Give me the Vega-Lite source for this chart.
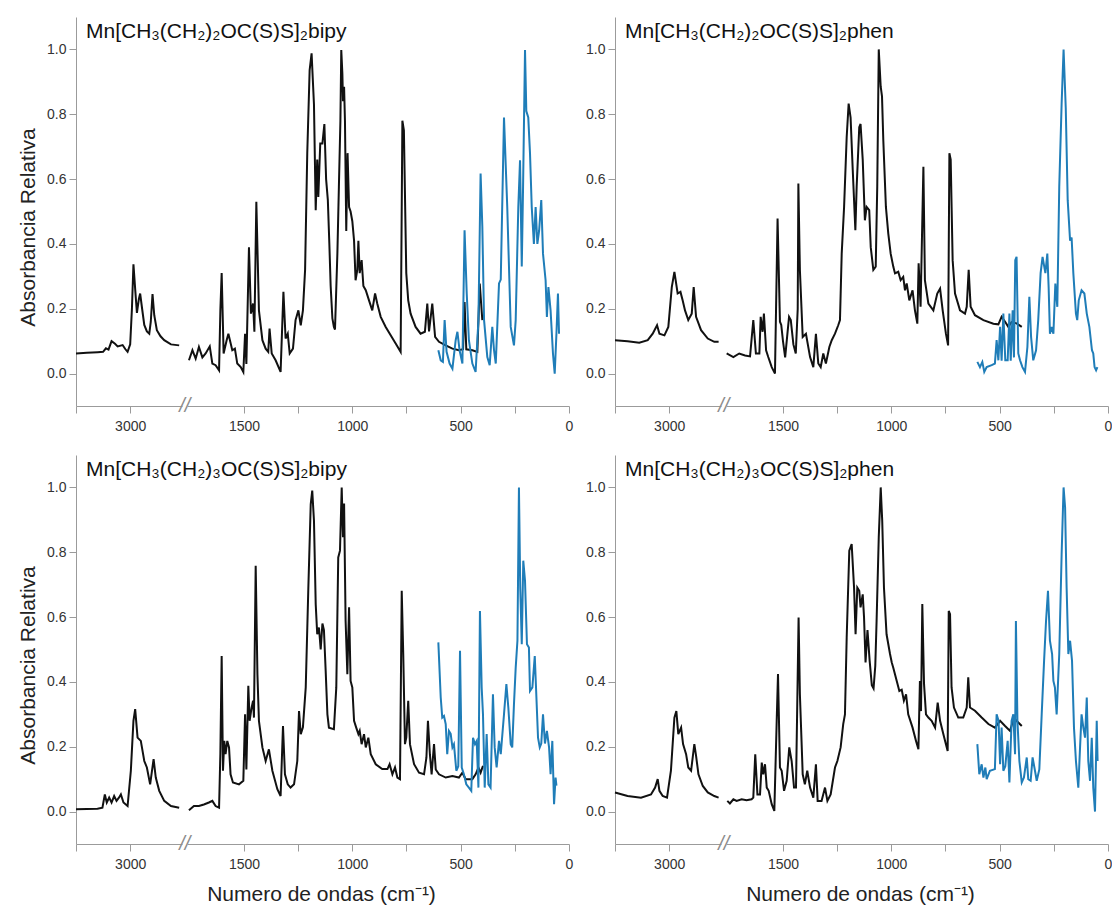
{
"$schema":"https://vega.github.io/schema/vega-lite/v6.json",
"background":"white",
"padding":{"left":17,"top":17,"right":3,"bottom":5},
"config":{"font":"Liberation Sans","view":{"stroke":null},
 "axis":{"grid":false,"domainColor":"#9b9b9b","tickColor":"#9b9b9b","tickSize":7,"labelColor":"#333333","labelFontSize":14,"labelFont":"Liberation Sans","titleFont":"Liberation Sans","titleFontSize":21,"titleFontWeight":"normal","titleColor":"#222222","labelFlush":false,"labelOverlap":false},
 "axisX":{"labelPadding":6,"titlePadding":12},
 "axisY":{"labelPadding":3,"titlePadding":8}},
"datasets":{
"p1L":[{"x":3250,"y":0.062},{"x":3200,"y":0.064},{"x":3150,"y":0.066},{"x":3125,"y":0.067},{"x":3112,"y":0.078},{"x":3100,"y":0.074},{"x":3086,"y":0.1},{"x":3070,"y":0.092},{"x":3058,"y":0.084},{"x":3035,"y":0.088},{"x":3022,"y":0.075},{"x":3012,"y":0.067},{"x":3000,"y":0.09},{"x":2992,"y":0.2},{"x":2985,"y":0.337},{"x":2978,"y":0.27},{"x":2969,"y":0.187},{"x":2960,"y":0.23},{"x":2954,"y":0.247},{"x":2945,"y":0.2},{"x":2935,"y":0.15},{"x":2923,"y":0.13},{"x":2912,"y":0.123},{"x":2905,"y":0.16},{"x":2897,"y":0.245},{"x":2889,"y":0.18},{"x":2877,"y":0.134},{"x":2860,"y":0.115},{"x":2843,"y":0.103},{"x":2812,"y":0.09},{"x":2774,"y":0.087}],
"p1M":[{"x":1754,"y":0.041},{"x":1738,"y":0.072},{"x":1723,"y":0.046},{"x":1708,"y":0.082},{"x":1692,"y":0.05},{"x":1677,"y":0.062},{"x":1658,"y":0.084},{"x":1646,"y":0.031},{"x":1631,"y":0.026},{"x":1615,"y":0.01},{"x":1609,"y":0.195},{"x":1603,"y":0.31},{"x":1594,"y":0.062},{"x":1580,"y":0.103},{"x":1572,"y":0.123},{"x":1554,"y":0.072},{"x":1542,"y":0.077},{"x":1531,"y":0.031},{"x":1515,"y":0.02},{"x":1503,"y":0.005},{"x":1495,"y":0.123},{"x":1489,"y":0.03},{"x":1477,"y":0.39},{"x":1468,"y":0.185},{"x":1458,"y":0.216},{"x":1452,"y":0.129},{"x":1443,"y":0.53},{"x":1431,"y":0.195},{"x":1415,"y":0.103},{"x":1400,"y":0.077},{"x":1388,"y":0.067},{"x":1382,"y":0.139},{"x":1372,"y":0.062},{"x":1354,"y":0.041},{"x":1331,"y":0.005},{"x":1318,"y":0.252},{"x":1308,"y":0.108},{"x":1298,"y":0.123},{"x":1289,"y":0.062},{"x":1274,"y":0.077},{"x":1262,"y":0.165},{"x":1249,"y":0.195},{"x":1238,"y":0.149},{"x":1228,"y":0.195},{"x":1218,"y":0.32},{"x":1208,"y":0.68},{"x":1197,"y":0.936},{"x":1188,"y":0.988},{"x":1177,"y":0.83},{"x":1169,"y":0.504},{"x":1162,"y":0.66},{"x":1157,"y":0.545},{"x":1148,"y":0.71},{"x":1138,"y":0.71},{"x":1129,"y":0.77},{"x":1121,"y":0.6},{"x":1113,"y":0.535},{"x":1106,"y":0.4},{"x":1100,"y":0.27},{"x":1092,"y":0.17},{"x":1085,"y":0.144},{"x":1080,"y":0.136},{"x":1069,"y":0.37},{"x":1062,"y":0.576},{"x":1055,"y":0.78},{"x":1051,"y":0.998},{"x":1046,"y":0.926},{"x":1043,"y":0.84},{"x":1038,"y":0.885},{"x":1034,"y":0.78},{"x":1028,"y":0.44},{"x":1022,"y":0.68},{"x":1015,"y":0.514},{"x":1008,"y":0.5},{"x":1000,"y":0.47},{"x":992,"y":0.41},{"x":985,"y":0.288},{"x":977,"y":0.32},{"x":972,"y":0.41},{"x":966,"y":0.31},{"x":957,"y":0.35},{"x":949,"y":0.27},{"x":938,"y":0.257},{"x":923,"y":0.226},{"x":908,"y":0.195},{"x":895,"y":0.247},{"x":885,"y":0.216},{"x":869,"y":0.175},{"x":846,"y":0.144},{"x":823,"y":0.118},{"x":800,"y":0.093},{"x":777,"y":0.067},{"x":769,"y":0.78},{"x":762,"y":0.75},{"x":751,"y":0.31},{"x":742,"y":0.226},{"x":731,"y":0.185},{"x":708,"y":0.144},{"x":685,"y":0.123},{"x":665,"y":0.129},{"x":654,"y":0.216},{"x":646,"y":0.13},{"x":631,"y":0.216},{"x":618,"y":0.113},{"x":600,"y":0.098},{"x":569,"y":0.087},{"x":538,"y":0.077},{"x":508,"y":0.072},{"x":489,"y":0.075},{"x":482,"y":0.221},{"x":474,"y":0.075},{"x":446,"y":0.072},{"x":423,"y":0.067},{"x":412,"y":0.278},{"x":400,"y":0.165}],
"p1F":[{"x":603,"y":0.072},{"x":592,"y":0.041},{"x":582,"y":0.036},{"x":574,"y":0.165},{"x":565,"y":0.067},{"x":551,"y":0.031},{"x":538,"y":0.015},{"x":523,"y":0.103},{"x":515,"y":0.129},{"x":505,"y":0.072},{"x":492,"y":0.031},{"x":482,"y":0.442},{"x":472,"y":0.247},{"x":462,"y":0.103},{"x":446,"y":0.031},{"x":431,"y":0.005},{"x":418,"y":0.165},{"x":408,"y":0.617},{"x":400,"y":0.453},{"x":392,"y":0.165},{"x":377,"y":0.051},{"x":366,"y":0.026},{"x":354,"y":0.144},{"x":346,"y":0.072},{"x":338,"y":0.031},{"x":323,"y":0.278},{"x":315,"y":0.29},{"x":300,"y":0.79},{"x":285,"y":0.514},{"x":269,"y":0.144},{"x":254,"y":0.087},{"x":246,"y":0.165},{"x":234,"y":0.514},{"x":226,"y":0.658},{"x":218,"y":0.33},{"x":212,"y":0.576},{"x":203,"y":0.998},{"x":197,"y":0.81},{"x":188,"y":0.79},{"x":180,"y":0.68},{"x":172,"y":0.514},{"x":162,"y":0.4},{"x":154,"y":0.514},{"x":146,"y":0.4},{"x":138,"y":0.44},{"x":128,"y":0.535},{"x":120,"y":0.37},{"x":108,"y":0.288},{"x":102,"y":0.175},{"x":95,"y":0.267},{"x":85,"y":0.195},{"x":74,"y":0.062},{"x":66,"y":0.0},{"x":58,"y":0.123},{"x":51,"y":0.247},{"x":46,"y":0.123}],
"p2L":[{"x":3250,"y":0.103},{"x":3192,"y":0.1},{"x":3138,"y":0.095},{"x":3099,"y":0.103},{"x":3076,"y":0.123},{"x":3056,"y":0.149},{"x":3045,"y":0.123},{"x":3022,"y":0.118},{"x":3004,"y":0.144},{"x":2988,"y":0.267},{"x":2976,"y":0.314},{"x":2961,"y":0.247},{"x":2948,"y":0.252},{"x":2938,"y":0.226},{"x":2927,"y":0.195},{"x":2912,"y":0.165},{"x":2896,"y":0.185},{"x":2887,"y":0.267},{"x":2876,"y":0.175},{"x":2853,"y":0.134},{"x":2822,"y":0.108},{"x":2792,"y":0.098},{"x":2772,"y":0.098}],
"p2M":[{"x":1760,"y":0.062},{"x":1729,"y":0.051},{"x":1702,"y":0.062},{"x":1675,"y":0.056},{"x":1652,"y":0.053},{"x":1637,"y":0.165},{"x":1625,"y":0.062},{"x":1609,"y":0.062},{"x":1603,"y":0.175},{"x":1594,"y":0.129},{"x":1588,"y":0.185},{"x":1578,"y":0.072},{"x":1568,"y":0.051},{"x":1552,"y":0.02},{"x":1537,"y":0.0},{"x":1525,"y":0.478},{"x":1514,"y":0.16},{"x":1508,"y":0.15},{"x":1500,"y":0.1},{"x":1490,"y":0.05},{"x":1480,"y":0.12},{"x":1472,"y":0.175},{"x":1464,"y":0.165},{"x":1452,"y":0.09},{"x":1441,"y":0.062},{"x":1432,"y":0.2},{"x":1429,"y":0.586},{"x":1422,"y":0.32},{"x":1409,"y":0.113},{"x":1394,"y":0.123},{"x":1375,"y":0.051},{"x":1360,"y":0.02},{"x":1348,"y":0.123},{"x":1337,"y":0.031},{"x":1326,"y":0.02},{"x":1314,"y":0.062},{"x":1302,"y":0.031},{"x":1286,"y":0.082},{"x":1275,"y":0.103},{"x":1260,"y":0.123},{"x":1245,"y":0.149},{"x":1237,"y":0.165},{"x":1229,"y":0.37},{"x":1218,"y":0.514},{"x":1206,"y":0.73},{"x":1197,"y":0.833},{"x":1188,"y":0.79},{"x":1178,"y":0.627},{"x":1166,"y":0.442},{"x":1160,"y":0.576},{"x":1148,"y":0.76},{"x":1142,"y":0.77},{"x":1132,"y":0.66},{"x":1122,"y":0.473},{"x":1114,"y":0.514},{"x":1102,"y":0.504},{"x":1095,"y":0.39},{"x":1083,"y":0.32},{"x":1072,"y":0.33},{"x":1065,"y":0.576},{"x":1058,"y":1.0},{"x":1049,"y":0.885},{"x":1043,"y":0.855},{"x":1037,"y":0.72},{"x":1025,"y":0.514},{"x":1014,"y":0.432},{"x":1003,"y":0.37},{"x":991,"y":0.33},{"x":983,"y":0.309},{"x":968,"y":0.314},{"x":957,"y":0.288},{"x":945,"y":0.298},{"x":937,"y":0.257},{"x":929,"y":0.278},{"x":917,"y":0.226},{"x":902,"y":0.257},{"x":891,"y":0.195},{"x":880,"y":0.154},{"x":874,"y":0.34},{"x":865,"y":0.206},{"x":852,"y":0.638},{"x":845,"y":0.288},{"x":829,"y":0.216},{"x":806,"y":0.195},{"x":788,"y":0.247},{"x":775,"y":0.262},{"x":763,"y":0.195},{"x":748,"y":0.123},{"x":738,"y":0.087},{"x":732,"y":0.68},{"x":726,"y":0.66},{"x":717,"y":0.35},{"x":706,"y":0.247},{"x":683,"y":0.195},{"x":660,"y":0.185},{"x":652,"y":0.206},{"x":643,"y":0.32},{"x":634,"y":0.206},{"x":614,"y":0.18},{"x":575,"y":0.165},{"x":529,"y":0.154},{"x":506,"y":0.152},{"x":491,"y":0.175},{"x":475,"y":0.16},{"x":460,"y":0.144},{"x":445,"y":0.159},{"x":422,"y":0.155},{"x":398,"y":0.144}],
"p2F":[{"x":603,"y":0.036},{"x":591,"y":0.02},{"x":580,"y":0.036},{"x":571,"y":0.005},{"x":560,"y":0.02},{"x":537,"y":0.026},{"x":522,"y":0.031},{"x":514,"y":0.103},{"x":506,"y":0.041},{"x":498,"y":0.144},{"x":491,"y":0.04},{"x":483,"y":0.185},{"x":474,"y":0.041},{"x":463,"y":0.041},{"x":455,"y":0.185},{"x":449,"y":0.04},{"x":440,"y":0.195},{"x":434,"y":0.05},{"x":428,"y":0.35},{"x":422,"y":0.36},{"x":414,"y":0.062},{"x":406,"y":0.041},{"x":395,"y":0.02},{"x":383,"y":0.005},{"x":372,"y":0.082},{"x":363,"y":0.237},{"x":355,"y":0.113},{"x":345,"y":0.041},{"x":332,"y":0.072},{"x":322,"y":0.165},{"x":311,"y":0.31},{"x":302,"y":0.36},{"x":289,"y":0.31},{"x":280,"y":0.37},{"x":274,"y":0.267},{"x":268,"y":0.123},{"x":260,"y":0.144},{"x":252,"y":0.123},{"x":243,"y":0.278},{"x":234,"y":0.206},{"x":225,"y":0.576},{"x":214,"y":0.833},{"x":205,"y":1.0},{"x":195,"y":0.82},{"x":186,"y":0.535},{"x":175,"y":0.41},{"x":168,"y":0.42},{"x":160,"y":0.31},{"x":148,"y":0.185},{"x":142,"y":0.165},{"x":135,"y":0.226},{"x":122,"y":0.257},{"x":109,"y":0.247},{"x":98,"y":0.185},{"x":86,"y":0.144},{"x":74,"y":0.072},{"x":68,"y":0.062},{"x":62,"y":0.02},{"x":55,"y":0.01},{"x":49,"y":0.02}],
"p3L":[{"x":3250,"y":0.007},{"x":3151,"y":0.009},{"x":3128,"y":0.012},{"x":3117,"y":0.053},{"x":3108,"y":0.028},{"x":3097,"y":0.043},{"x":3086,"y":0.028},{"x":3074,"y":0.048},{"x":3063,"y":0.033},{"x":3052,"y":0.043},{"x":3043,"y":0.053},{"x":3031,"y":0.028},{"x":3012,"y":0.017},{"x":2997,"y":0.126},{"x":2985,"y":0.28},{"x":2977,"y":0.316},{"x":2966,"y":0.228},{"x":2951,"y":0.218},{"x":2935,"y":0.156},{"x":2923,"y":0.136},{"x":2908,"y":0.084},{"x":2892,"y":0.162},{"x":2882,"y":0.105},{"x":2866,"y":0.064},{"x":2843,"y":0.033},{"x":2812,"y":0.017},{"x":2774,"y":0.012}],
"p3M":[{"x":1754,"y":0.004},{"x":1731,"y":0.017},{"x":1708,"y":0.017},{"x":1685,"y":0.022},{"x":1662,"y":0.028},{"x":1646,"y":0.033},{"x":1631,"y":0.017},{"x":1615,"y":0.012},{"x":1609,"y":0.18},{"x":1603,"y":0.48},{"x":1597,"y":0.126},{"x":1591,"y":0.218},{"x":1585,"y":0.177},{"x":1577,"y":0.218},{"x":1569,"y":0.198},{"x":1562,"y":0.115},{"x":1551,"y":0.09},{"x":1523,"y":0.084},{"x":1503,"y":0.095},{"x":1495,"y":0.3},{"x":1489,"y":0.13},{"x":1480,"y":0.388},{"x":1474,"y":0.28},{"x":1465,"y":0.32},{"x":1458,"y":0.342},{"x":1454,"y":0.29},{"x":1446,"y":0.758},{"x":1438,"y":0.424},{"x":1431,"y":0.28},{"x":1415,"y":0.198},{"x":1400,"y":0.156},{"x":1385,"y":0.192},{"x":1369,"y":0.126},{"x":1346,"y":0.069},{"x":1331,"y":0.048},{"x":1320,"y":0.264},{"x":1311,"y":0.115},{"x":1298,"y":0.084},{"x":1285,"y":0.074},{"x":1269,"y":0.084},{"x":1254,"y":0.156},{"x":1246,"y":0.31},{"x":1238,"y":0.239},{"x":1228,"y":0.26},{"x":1215,"y":0.383},{"x":1203,"y":0.69},{"x":1192,"y":0.948},{"x":1185,"y":0.99},{"x":1177,"y":0.897},{"x":1169,"y":0.64},{"x":1162,"y":0.547},{"x":1154,"y":0.568},{"x":1146,"y":0.5},{"x":1138,"y":0.58},{"x":1131,"y":0.56},{"x":1123,"y":0.434},{"x":1115,"y":0.3},{"x":1108,"y":0.259},{"x":1085,"y":0.254},{"x":1074,"y":0.383},{"x":1065,"y":0.784},{"x":1057,"y":0.805},{"x":1049,"y":1.0},{"x":1043,"y":0.846},{"x":1038,"y":0.95},{"x":1031,"y":0.588},{"x":1023,"y":0.424},{"x":1015,"y":0.63},{"x":1008,"y":0.403},{"x":1000,"y":0.383},{"x":992,"y":0.28},{"x":982,"y":0.259},{"x":972,"y":0.239},{"x":966,"y":0.249},{"x":957,"y":0.208},{"x":946,"y":0.239},{"x":938,"y":0.198},{"x":926,"y":0.228},{"x":915,"y":0.177},{"x":892,"y":0.146},{"x":862,"y":0.131},{"x":838,"y":0.131},{"x":828,"y":0.146},{"x":815,"y":0.115},{"x":803,"y":0.136},{"x":792,"y":0.105},{"x":780,"y":0.1},{"x":772,"y":0.681},{"x":765,"y":0.486},{"x":757,"y":0.208},{"x":751,"y":0.228},{"x":742,"y":0.342},{"x":734,"y":0.208},{"x":715,"y":0.146},{"x":692,"y":0.12},{"x":669,"y":0.115},{"x":658,"y":0.167},{"x":651,"y":0.28},{"x":642,"y":0.177},{"x":634,"y":0.115},{"x":623,"y":0.208},{"x":615,"y":0.13},{"x":600,"y":0.115},{"x":569,"y":0.105},{"x":538,"y":0.11},{"x":508,"y":0.105},{"x":492,"y":0.12},{"x":477,"y":0.1},{"x":446,"y":0.1},{"x":431,"y":0.115},{"x":418,"y":0.136},{"x":408,"y":0.12},{"x":397,"y":0.141}],
"p3F":[{"x":603,"y":0.522},{"x":592,"y":0.352},{"x":585,"y":0.29},{"x":577,"y":0.295},{"x":569,"y":0.27},{"x":562,"y":0.177},{"x":554,"y":0.249},{"x":546,"y":0.24},{"x":538,"y":0.198},{"x":531,"y":0.208},{"x":520,"y":0.126},{"x":511,"y":0.14},{"x":503,"y":0.496},{"x":495,"y":0.136},{"x":485,"y":0.115},{"x":474,"y":0.084},{"x":462,"y":0.074},{"x":451,"y":0.064},{"x":443,"y":0.228},{"x":434,"y":0.208},{"x":426,"y":0.218},{"x":418,"y":0.074},{"x":411,"y":0.619},{"x":403,"y":0.383},{"x":397,"y":0.3},{"x":389,"y":0.074},{"x":380,"y":0.239},{"x":372,"y":0.084},{"x":362,"y":0.074},{"x":351,"y":0.362},{"x":343,"y":0.198},{"x":334,"y":0.136},{"x":323,"y":0.218},{"x":315,"y":0.177},{"x":300,"y":0.3},{"x":289,"y":0.393},{"x":280,"y":0.321},{"x":269,"y":0.208},{"x":262,"y":0.198},{"x":254,"y":0.331},{"x":246,"y":0.444},{"x":238,"y":0.527},{"x":231,"y":1.0},{"x":225,"y":0.691},{"x":218,"y":0.516},{"x":211,"y":0.774},{"x":203,"y":0.712},{"x":194,"y":0.516},{"x":185,"y":0.506},{"x":180,"y":0.372},{"x":169,"y":0.383},{"x":158,"y":0.48},{"x":151,"y":0.362},{"x":143,"y":0.228},{"x":135,"y":0.198},{"x":128,"y":0.21},{"x":120,"y":0.3},{"x":111,"y":0.21},{"x":102,"y":0.249},{"x":92,"y":0.198},{"x":85,"y":0.115},{"x":77,"y":0.218},{"x":69,"y":0.023},{"x":62,"y":0.105},{"x":58,"y":0.08}],
"p4L":[{"x":3250,"y":0.059},{"x":3192,"y":0.048},{"x":3130,"y":0.043},{"x":3084,"y":0.053},{"x":3065,"y":0.074},{"x":3053,"y":0.1},{"x":3045,"y":0.064},{"x":3030,"y":0.048},{"x":3010,"y":0.043},{"x":2992,"y":0.126},{"x":2976,"y":0.29},{"x":2967,"y":0.31},{"x":2958,"y":0.239},{"x":2945,"y":0.259},{"x":2936,"y":0.208},{"x":2922,"y":0.177},{"x":2912,"y":0.136},{"x":2899,"y":0.126},{"x":2884,"y":0.208},{"x":2876,"y":0.172},{"x":2865,"y":0.115},{"x":2845,"y":0.079},{"x":2822,"y":0.059},{"x":2792,"y":0.048},{"x":2772,"y":0.043}],
"p4M":[{"x":1757,"y":0.033},{"x":1745,"y":0.025},{"x":1729,"y":0.038},{"x":1714,"y":0.033},{"x":1691,"y":0.038},{"x":1668,"y":0.035},{"x":1645,"y":0.038},{"x":1637,"y":0.043},{"x":1628,"y":0.177},{"x":1618,"y":0.053},{"x":1606,"y":0.053},{"x":1598,"y":0.151},{"x":1591,"y":0.115},{"x":1583,"y":0.146},{"x":1575,"y":0.074},{"x":1566,"y":0.064},{"x":1552,"y":0.023},{"x":1540,"y":0.002},{"x":1529,"y":0.28},{"x":1523,"y":0.424},{"x":1514,"y":0.136},{"x":1506,"y":0.126},{"x":1495,"y":0.064},{"x":1483,"y":0.095},{"x":1471,"y":0.198},{"x":1460,"y":0.156},{"x":1449,"y":0.074},{"x":1440,"y":0.074},{"x":1428,"y":0.599},{"x":1422,"y":0.362},{"x":1409,"y":0.115},{"x":1399,"y":0.084},{"x":1388,"y":0.126},{"x":1375,"y":0.074},{"x":1360,"y":0.043},{"x":1348,"y":0.146},{"x":1340,"y":0.033},{"x":1322,"y":0.033},{"x":1306,"y":0.074},{"x":1295,"y":0.033},{"x":1280,"y":0.053},{"x":1260,"y":0.136},{"x":1249,"y":0.156},{"x":1234,"y":0.198},{"x":1222,"y":0.27},{"x":1214,"y":0.3},{"x":1206,"y":0.537},{"x":1194,"y":0.805},{"x":1183,"y":0.825},{"x":1172,"y":0.691},{"x":1165,"y":0.547},{"x":1157,"y":0.691},{"x":1148,"y":0.681},{"x":1142,"y":0.63},{"x":1132,"y":0.67},{"x":1126,"y":0.6},{"x":1119,"y":0.46},{"x":1110,"y":0.56},{"x":1100,"y":0.465},{"x":1090,"y":0.39},{"x":1082,"y":0.38},{"x":1074,"y":0.45},{"x":1068,"y":0.588},{"x":1058,"y":0.846},{"x":1049,"y":1.0},{"x":1042,"y":0.897},{"x":1034,"y":0.691},{"x":1022,"y":0.547},{"x":1006,"y":0.486},{"x":998,"y":0.46},{"x":991,"y":0.444},{"x":975,"y":0.403},{"x":963,"y":0.372},{"x":952,"y":0.376},{"x":942,"y":0.342},{"x":932,"y":0.362},{"x":922,"y":0.3},{"x":902,"y":0.259},{"x":886,"y":0.218},{"x":875,"y":0.192},{"x":868,"y":0.403},{"x":863,"y":0.31},{"x":857,"y":0.64},{"x":849,"y":0.393},{"x":840,"y":0.3},{"x":829,"y":0.29},{"x":814,"y":0.28},{"x":798,"y":0.259},{"x":786,"y":0.336},{"x":775,"y":0.28},{"x":760,"y":0.239},{"x":748,"y":0.208},{"x":740,"y":0.187},{"x":735,"y":0.619},{"x":729,"y":0.609},{"x":722,"y":0.383},{"x":711,"y":0.321},{"x":691,"y":0.29},{"x":668,"y":0.29},{"x":652,"y":0.321},{"x":645,"y":0.414},{"x":637,"y":0.321},{"x":614,"y":0.311},{"x":583,"y":0.29},{"x":552,"y":0.27},{"x":522,"y":0.259},{"x":498,"y":0.28},{"x":475,"y":0.264},{"x":452,"y":0.249},{"x":434,"y":0.29},{"x":422,"y":0.28},{"x":398,"y":0.264}],
"p4F":[{"x":603,"y":0.208},{"x":594,"y":0.115},{"x":583,"y":0.146},{"x":575,"y":0.105},{"x":566,"y":0.136},{"x":560,"y":0.1},{"x":545,"y":0.126},{"x":522,"y":0.131},{"x":514,"y":0.3},{"x":505,"y":0.28},{"x":498,"y":0.146},{"x":491,"y":0.259},{"x":483,"y":0.126},{"x":474,"y":0.14},{"x":463,"y":0.218},{"x":455,"y":0.09},{"x":445,"y":0.28},{"x":437,"y":0.3},{"x":429,"y":0.177},{"x":425,"y":0.588},{"x":418,"y":0.28},{"x":409,"y":0.156},{"x":398,"y":0.09},{"x":388,"y":0.105},{"x":375,"y":0.167},{"x":368,"y":0.1},{"x":357,"y":0.095},{"x":348,"y":0.167},{"x":337,"y":0.126},{"x":329,"y":0.095},{"x":317,"y":0.13},{"x":306,"y":0.3},{"x":295,"y":0.465},{"x":286,"y":0.588},{"x":277,"y":0.681},{"x":268,"y":0.527},{"x":258,"y":0.486},{"x":252,"y":0.403},{"x":245,"y":0.383},{"x":237,"y":0.3},{"x":225,"y":0.486},{"x":214,"y":0.794},{"x":205,"y":1.0},{"x":198,"y":0.938},{"x":191,"y":0.691},{"x":183,"y":0.486},{"x":175,"y":0.527},{"x":166,"y":0.465},{"x":157,"y":0.259},{"x":148,"y":0.156},{"x":137,"y":0.074},{"x":129,"y":0.198},{"x":122,"y":0.3},{"x":114,"y":0.26},{"x":106,"y":0.228},{"x":98,"y":0.352},{"x":91,"y":0.156},{"x":83,"y":0.095},{"x":75,"y":0.228},{"x":68,"y":0.074},{"x":60,"y":0.0},{"x":52,"y":0.28},{"x":48,"y":0.156}]
},
"vconcat":[
 {"hconcat":[
  {"hconcat":[
   {"width":106,"height":389,"layer":[
    {"data":{"name":"p1L"},"mark":{"type":"line","color":"#111111","strokeWidth":2},"encoding":{"x":{"field":"x","type":"quantitative","scale":{"domain":[2761,3250],"reverse":true,"nice":false,"zero":false},"axis":{"values":[3250,3000],"labelExpr":"datum.value == 3000 ? '3000' : ''","title":null}},"y":{"field":"y","type":"quantitative","scale":{"domain":[-0.1,1.1],"nice":false,"zero":false},"axis":{"values":[0,0.1,0.2,0.3,0.4,0.5,0.6,0.7,0.8,0.9,1],"labelExpr":"round(datum.value*10) % 2 == 0 ? format(datum.value, '.1f') : ''","title":"Absorbancia Relativa","titleY":210}}}},
    {"data":{"values":[{}]},"mark":{"type":"text","text":"Mn[CH₃(CH₂)₂OC(S)S]₂bipy","align":"left","baseline":"alphabetic","fontSize":21,"color":"#111111"},"encoding":{"x":{"datum":3204,"type":"quantitative"},"y":{"datum":1.034,"type":"quantitative"}}},
    {"data":{"values":[{}]},"mark":{"type":"text","text":"//","align":"center","baseline":"middle","fontSize":20,"fontStyle":"italic","color":"#8c8c8c"},"encoding":{"x":{"datum":2748,"type":"quantitative"},"y":{"datum":-0.1,"type":"quantitative"}}}
   ]},
   {"width":382,"height":389,"layer":[
    {"data":{"name":"p1M"},"mark":{"type":"line","color":"#111111","strokeWidth":2},"encoding":{"x":{"field":"x","type":"quantitative","scale":{"domain":[0,1763],"reverse":true,"nice":false,"zero":false},"axis":{"values":[1500,1250,1000,750,500,250,0],"labelExpr":"datum.value % 500 == 0 ? '' + datum.value : ''","title":null}},"y":{"field":"y","type":"quantitative","scale":{"domain":[-0.1,1.1],"nice":false,"zero":false},"axis":null}}},
    {"data":{"name":"p1F"},"mark":{"type":"line","color":"#1f7db8","strokeWidth":2},"encoding":{"x":{"field":"x","type":"quantitative"},"y":{"field":"y","type":"quantitative"}}}
   ]}
  ],"spacing":5,"bounds":"flush"},
  {"hconcat":[
   {"width":106,"height":389,"layer":[
    {"data":{"name":"p2L"},"mark":{"type":"line","color":"#111111","strokeWidth":2},"encoding":{"x":{"field":"x","type":"quantitative","scale":{"domain":[2761,3250],"reverse":true,"nice":false,"zero":false},"axis":{"values":[3250,3000],"labelExpr":"datum.value == 3000 ? '3000' : ''","title":null}},"y":{"field":"y","type":"quantitative","scale":{"domain":[-0.1,1.1],"nice":false,"zero":false},"axis":{"values":[0,0.1,0.2,0.3,0.4,0.5,0.6,0.7,0.8,0.9,1],"labelExpr":"round(datum.value*10) % 2 == 0 ? format(datum.value, '.1f') : ''","title":null}}}},
    {"data":{"values":[{}]},"mark":{"type":"text","text":"Mn[CH₃(CH₂)₂OC(S)S]₂phen","align":"left","baseline":"alphabetic","fontSize":21,"color":"#111111"},"encoding":{"x":{"datum":3204,"type":"quantitative"},"y":{"datum":1.034,"type":"quantitative"}}},
    {"data":{"values":[{}]},"mark":{"type":"text","text":"//","align":"center","baseline":"middle","fontSize":20,"fontStyle":"italic","color":"#8c8c8c"},"encoding":{"x":{"datum":2748,"type":"quantitative"},"y":{"datum":-0.1,"type":"quantitative"}}}
   ]},
   {"width":382,"height":389,"layer":[
    {"data":{"name":"p2M"},"mark":{"type":"line","color":"#111111","strokeWidth":2},"encoding":{"x":{"field":"x","type":"quantitative","scale":{"domain":[0,1763],"reverse":true,"nice":false,"zero":false},"axis":{"values":[1500,1250,1000,750,500,250,0],"labelExpr":"datum.value % 500 == 0 ? '' + datum.value : ''","title":null}},"y":{"field":"y","type":"quantitative","scale":{"domain":[-0.1,1.1],"nice":false,"zero":false},"axis":null}}},
    {"data":{"name":"p2F"},"mark":{"type":"line","color":"#1f7db8","strokeWidth":2},"encoding":{"x":{"field":"x","type":"quantitative"},"y":{"field":"y","type":"quantitative"}}}
   ]}
  ],"spacing":5,"bounds":"flush"}
 ],"spacing":12},
 {"hconcat":[
  {"hconcat":[
   {"width":106,"height":389,"layer":[
    {"data":{"name":"p3L"},"mark":{"type":"line","color":"#111111","strokeWidth":2},"encoding":{"x":{"field":"x","type":"quantitative","scale":{"domain":[2761,3250],"reverse":true,"nice":false,"zero":false},"axis":{"values":[3250,3000],"labelExpr":"datum.value == 3000 ? '3000' : ''","title":null}},"y":{"field":"y","type":"quantitative","scale":{"domain":[-0.1,1.1],"nice":false,"zero":false},"axis":{"values":[0,0.1,0.2,0.3,0.4,0.5,0.6,0.7,0.8,0.9,1],"labelExpr":"round(datum.value*10) % 2 == 0 ? format(datum.value, '.1f') : ''","title":"Absorbancia Relativa","titleY":210}}}},
    {"data":{"values":[{}]},"mark":{"type":"text","text":"Mn[CH₃(CH₂)₃OC(S)S]₂bipy","align":"left","baseline":"alphabetic","fontSize":21,"color":"#111111"},"encoding":{"x":{"datum":3204,"type":"quantitative"},"y":{"datum":1.034,"type":"quantitative"}}},
    {"data":{"values":[{}]},"mark":{"type":"text","text":"//","align":"center","baseline":"middle","fontSize":20,"fontStyle":"italic","color":"#8c8c8c"},"encoding":{"x":{"datum":2748,"type":"quantitative"},"y":{"datum":-0.1,"type":"quantitative"}}}
   ]},
   {"width":382,"height":389,"layer":[
    {"data":{"name":"p3M"},"mark":{"type":"line","color":"#111111","strokeWidth":2},"encoding":{"x":{"field":"x","type":"quantitative","scale":{"domain":[0,1763],"reverse":true,"nice":false,"zero":false},"axis":{"values":[1500,1250,1000,750,500,250,0],"labelExpr":"datum.value % 500 == 0 ? '' + datum.value : ''","title":"Numero de ondas (cm⁻¹)","titleX":134}},"y":{"field":"y","type":"quantitative","scale":{"domain":[-0.1,1.1],"nice":false,"zero":false},"axis":null}}},
    {"data":{"name":"p3F"},"mark":{"type":"line","color":"#1f7db8","strokeWidth":2},"encoding":{"x":{"field":"x","type":"quantitative"},"y":{"field":"y","type":"quantitative"}}}
   ]}
  ],"spacing":5,"bounds":"flush"},
  {"hconcat":[
   {"width":106,"height":389,"layer":[
    {"data":{"name":"p4L"},"mark":{"type":"line","color":"#111111","strokeWidth":2},"encoding":{"x":{"field":"x","type":"quantitative","scale":{"domain":[2761,3250],"reverse":true,"nice":false,"zero":false},"axis":{"values":[3250,3000],"labelExpr":"datum.value == 3000 ? '3000' : ''","title":null}},"y":{"field":"y","type":"quantitative","scale":{"domain":[-0.1,1.1],"nice":false,"zero":false},"axis":{"values":[0,0.1,0.2,0.3,0.4,0.5,0.6,0.7,0.8,0.9,1],"labelExpr":"round(datum.value*10) % 2 == 0 ? format(datum.value, '.1f') : ''","title":null}}}},
    {"data":{"values":[{}]},"mark":{"type":"text","text":"Mn[CH₃(CH₂)₃OC(S)S]₂phen","align":"left","baseline":"alphabetic","fontSize":21,"color":"#111111"},"encoding":{"x":{"datum":3204,"type":"quantitative"},"y":{"datum":1.034,"type":"quantitative"}}},
    {"data":{"values":[{}]},"mark":{"type":"text","text":"//","align":"center","baseline":"middle","fontSize":20,"fontStyle":"italic","color":"#8c8c8c"},"encoding":{"x":{"datum":2748,"type":"quantitative"},"y":{"datum":-0.1,"type":"quantitative"}}}
   ]},
   {"width":382,"height":389,"layer":[
    {"data":{"name":"p4M"},"mark":{"type":"line","color":"#111111","strokeWidth":2},"encoding":{"x":{"field":"x","type":"quantitative","scale":{"domain":[0,1763],"reverse":true,"nice":false,"zero":false},"axis":{"values":[1500,1250,1000,750,500,250,0],"labelExpr":"datum.value % 500 == 0 ? '' + datum.value : ''","title":"Numero de ondas (cm⁻¹)","titleX":134}},"y":{"field":"y","type":"quantitative","scale":{"domain":[-0.1,1.1],"nice":false,"zero":false},"axis":null}}},
    {"data":{"name":"p4F"},"mark":{"type":"line","color":"#1f7db8","strokeWidth":2},"encoding":{"x":{"field":"x","type":"quantitative"},"y":{"field":"y","type":"quantitative"}}}
   ]}
  ],"spacing":5,"bounds":"flush"}
 ],"spacing":12}
],"spacing":22
}
